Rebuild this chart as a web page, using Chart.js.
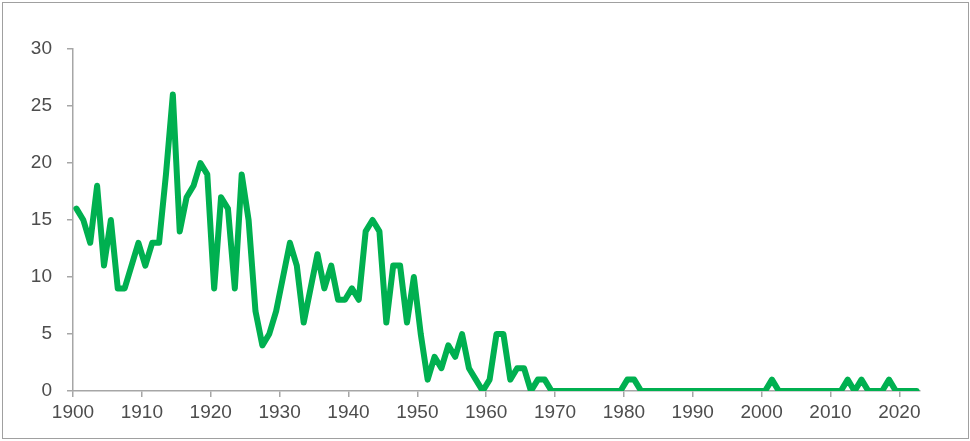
<!DOCTYPE html>
<html>
<head>
<meta charset="utf-8">
<script src="https://cdn.jsdelivr.net/npm/chart.js@4"></script>
<style>
  html, body { margin: 0; padding: 0; background: #fff; }
  .wrap { position: relative; width: 970px; height: 441px; }
  .frame { position: absolute; left: 2px; top: 2px; right: 1px; bottom: 2px; border: 1px solid #a0a0a0; pointer-events: none; }
</style>
</head>
<body>
<div class="wrap">
  <canvas id="myChart" width="970" height="441"></canvas>
  <div class="frame"></div>
</div>
<script>
// Data
const years = [];
for (let y = 1900; y <= 2022; y++) years.push(y);

const counts = [
  16, 15, 13, 18, 11, 15, 9, 9, 11, 13,       // 1900s
  11, 13, 13, 19, 26, 14, 17, 18, 20, 19,     // 1910s
  9, 17, 16, 9, 19, 15, 7, 4, 5, 7,           // 1920s
  10, 13, 11, 6, 9, 12, 9, 11, 8, 8,          // 1930s
  9, 8, 14, 15, 14, 6, 11, 11, 6, 10,         // 1940s
  5, 1, 3, 2, 4, 3, 5, 2, 1, 0,               // 1950s
  1, 5, 5, 1, 2, 2, 0, 1, 1, 0,               // 1960s
  0, 0, 0, 0, 0, 0, 0, 0, 0, 0,               // 1970s
  1, 1, 0, 0, 0, 0, 0, 0, 0, 0,               // 1980s
  0, 0, 0, 0, 0, 0, 0, 0, 0, 0,               // 1990s
  0, 1, 0, 0, 0, 0, 0, 0, 0, 0,               // 2000s
  0, 0, 1, 0, 1, 0, 0, 0, 1, 0,               // 2010s
  0, 0, 0                                     // 2020s
];

const yTicks = [0, 5, 10, 15, 20, 25, 30];
const xTicks = [1900, 1910, 1920, 1930, 1940, 1950, 1960, 1970, 1980, 1990, 2000, 2010, 2020];

// points sit in the middle of each year
const points = years.map((yr, i) => ({ x: yr + 0.5, y: counts[i] }));

const axisGrey = '#a6a6a6';
const textGrey = '#4d4d4d';

const ctx = document.getElementById('myChart').getContext('2d');
const myChart = new Chart(ctx, {
    type: 'line',
    data: {
        datasets: [{
            data: points,
            borderColor: '#00b050',
            borderWidth: 6,
            borderJoinStyle: 'round',
            borderCapStyle: 'round',
            pointRadius: 0,
            tension: 0,
            fill: false
        }]
    },
    options: {
        responsive: false,
        animation: false,
        events: [],
        layout: {
            padding: { top: 49, right: 50, left: 0, bottom: 0 }
        },
        plugins: {
            legend: { display: false },
            tooltip: { enabled: false }
        },
        scales: {
            x: {
                type: 'linear',
                min: 1900,
                max: 2023,
                afterBuildTicks: (axis) => { axis.ticks = xTicks.map(v => ({ value: v })); },
                afterFit: (axis) => { axis.height = 50; },
                ticks: {
                    color: textGrey,
                    font: { family: 'Liberation Sans, Arial, sans-serif', size: 19 },
                    padding: 4,
                    maxRotation: 0,
                    autoSkip: false,
                    callback: (v) => String(v)
                },
                grid: {
                    drawOnChartArea: false,
                    drawTicks: true,
                    tickLength: 6,
                    color: axisGrey,
                    lineWidth: 1.5
                },
                border: { color: axisGrey, width: 1.5 }
            },
            y: {
                min: 0,
                max: 30,
                afterBuildTicks: (axis) => { axis.ticks = yTicks.map(v => ({ value: v })); },
                afterFit: (axis) => { axis.width = 73; },
                ticks: {
                    color: textGrey,
                    font: { family: 'Liberation Sans, Arial, sans-serif', size: 19 },
                    padding: 15
                },
                grid: {
                    drawOnChartArea: false,
                    drawTicks: true,
                    tickLength: 6,
                    color: axisGrey,
                    lineWidth: 1.5
                },
                border: { color: axisGrey, width: 1.5 }
            }
        }
    }
});
</script>
</body>
</html>
